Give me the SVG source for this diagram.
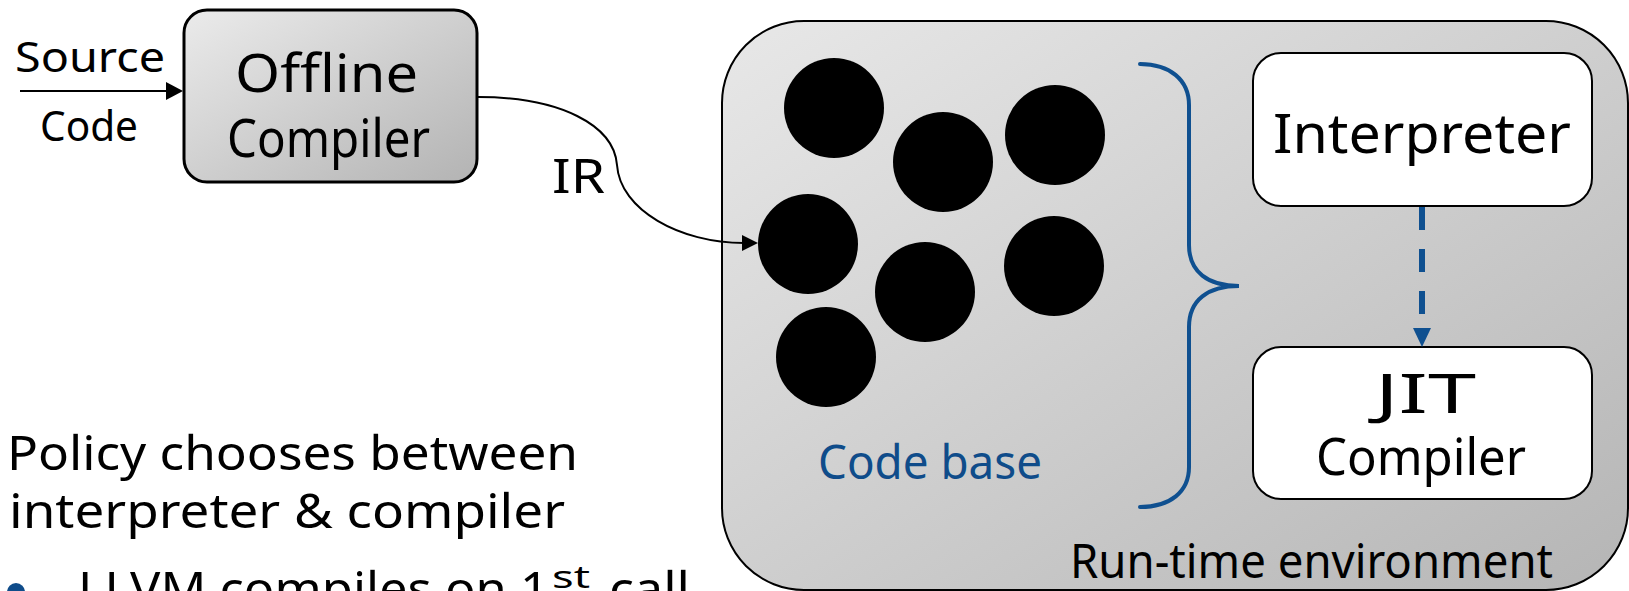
<svg xmlns="http://www.w3.org/2000/svg" width="1629" height="591" viewBox="0 0 1629 591">
  <defs>
    <linearGradient id="gradGray" x1="0" y1="0" x2="1" y2="1">
      <stop offset="0" stop-color="#ebebeb"/>
      <stop offset="1" stop-color="#b3b3b3"/>
    </linearGradient>
    <linearGradient id="gradEnv" x1="0" y1="0" x2="1" y2="1">
      <stop offset="0" stop-color="#e8e8e8"/>
      <stop offset="1" stop-color="#b5b5b5"/>
    </linearGradient>
    <style>
      text { font-family: "Noto Sans", "Open Sans", sans-serif; fill: #000; }
      .blue { fill: #0f4c8a; }
      .box { fill: #fff; stroke: #000; stroke-width: 2; }
      .dot { fill: #000; }
      .wire { fill: none; stroke: #000; stroke-width: 2; }
      .brace { fill: none; stroke: #0f5090; stroke-width: 4; stroke-linecap: round; }
    </style>
  </defs>

  <!-- Run-time environment container -->
  <g id="runtime-env">
    <rect x="722" y="21" width="906" height="569" rx="82" ry="82" fill="url(#gradEnv)" stroke="#000" stroke-width="2"/>
    <text x="1070" y="578" font-size="48" textLength="483" lengthAdjust="spacingAndGlyphs">Run-time environment</text>
  </g>

  <!-- Offline compiler -->
  <g id="offline-compiler">
    <rect x="184" y="10" width="293" height="172" rx="23" ry="23" fill="url(#gradGray)" stroke="#000" stroke-width="3"/>
    <text x="235" y="92" font-size="52" textLength="183" lengthAdjust="spacingAndGlyphs">Offline</text>
    <text x="227" y="157" font-size="52" textLength="203" lengthAdjust="spacingAndGlyphs">Compiler</text>
  </g>

  <!-- Source code label -->
  <g id="source-code">
    <text x="15" y="72" font-size="41" textLength="150" lengthAdjust="spacingAndGlyphs">Source</text>
    <text x="40" y="141" font-size="41" textLength="98" lengthAdjust="spacingAndGlyphs">Code</text>
  </g>

  <!-- Code base -->
  <g id="code-base">
    <circle class="dot" cx="834" cy="108" r="50"/>
    <circle class="dot" cx="943" cy="162" r="50"/>
    <circle class="dot" cx="1055" cy="135" r="50"/>
    <circle class="dot" cx="808" cy="244" r="50"/>
    <circle class="dot" cx="925" cy="292" r="50"/>
    <circle class="dot" cx="1054" cy="266" r="50"/>
    <circle class="dot" cx="826" cy="357" r="50"/>
    <text class="blue" x="818" y="479" font-size="48" textLength="224" lengthAdjust="spacingAndGlyphs">Code base</text>
  </g>

  <!-- Brace grouping the code base -->
  <g id="brace">
    <path class="brace" d="M1140,64 C1170,64 1189,80 1189,105 L1189,245 C1189,272 1208,286 1239,286 C1208,286 1189,300 1189,327 L1189,467 C1189,492 1170,507 1140,507"/>
  </g>

  <!-- Interpreter -->
  <g id="interpreter">
    <rect class="box" x="1253" y="53" width="339" height="153" rx="28" ry="28"/>
    <text x="1273" y="153" font-size="54" textLength="298" lengthAdjust="spacingAndGlyphs">Interpreter</text>
  </g>

  <!-- JIT compiler -->
  <g id="jit-compiler">
    <rect class="box" x="1253" y="347" width="339" height="152" rx="28" ry="28"/>
    <text x="1375" y="413" font-size="54" textLength="101" lengthAdjust="spacingAndGlyphs">JIT</text>
    <text x="1316" y="475" font-size="51" textLength="210" lengthAdjust="spacingAndGlyphs">Compiler</text>
  </g>

  <!-- Connectors -->
  <g id="connectors">
    <line class="wire" x1="20" y1="91" x2="168" y2="91"/>
    <polygon points="166,82 183,91 166,100" fill="#000"/>
    <path class="wire" d="M478,97 C560,97 614,125 617,165 C620,210 680,243 744,243"/>
    <polygon points="742,235 758,243 742,251" fill="#000"/>
    <text x="552" y="193" font-size="48" textLength="53" lengthAdjust="spacingAndGlyphs">IR</text>
    <line x1="1422" y1="207" x2="1422" y2="328" stroke="#0f5090" stroke-width="6" stroke-dasharray="23 19"/>
    <polygon points="1413,328 1431,328 1422,347" fill="#0f5090"/>
  </g>

  <!-- Policy notes -->
  <g id="notes">
    <text x="7" y="470" font-size="48" textLength="571" lengthAdjust="spacingAndGlyphs">Policy chooses between</text>
    <text x="9" y="528" font-size="48" textLength="556" lengthAdjust="spacingAndGlyphs">interpreter &amp; compiler</text>
    <circle cx="16" cy="592" r="9" fill="#0f4c8a"/>
    <text x="78" y="606" font-size="48" textLength="471" lengthAdjust="spacingAndGlyphs">LLVM compiles on 1</text>
    <text x="552" y="588" font-size="30" textLength="38" lengthAdjust="spacingAndGlyphs">st</text>
    <text x="609" y="606" font-size="48" textLength="81" lengthAdjust="spacingAndGlyphs">call</text>
  </g>
</svg>
